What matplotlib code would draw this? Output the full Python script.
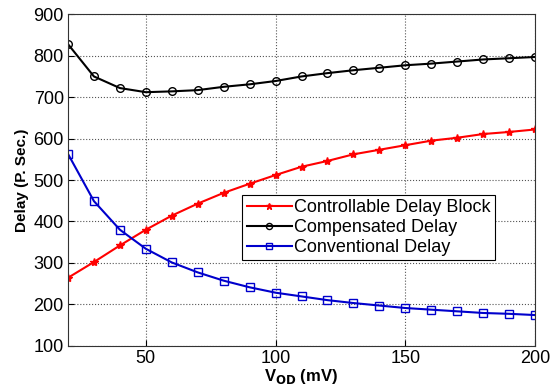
import matplotlib
matplotlib.use("Agg")
import matplotlib.pyplot as plt

# Daten
v_od = [20, 30, 40, 50, 60, 70, 80, 90, 100, 110, 120, 130, 140, 150, 160, 170, 180, 190, 200]
controllable = [264, 302, 342, 380, 414, 443, 469, 491, 512, 532, 546, 562, 573, 584, 595, 602, 611, 616, 622]
compensated = [828, 750, 722, 712, 714, 717, 725, 731, 739, 750, 758, 765, 771, 777, 781, 786, 791, 794, 797]
conventional = [563, 449, 380, 334, 301, 277, 257, 241, 228, 219, 210, 203, 197, 191, 187, 183, 179, 177, 174]

x_ticks = [50, 100, 150, 200]
y_ticks = [100, 200, 300, 400, 500, 600, 700, 800, 900]

plt.rcParams['font.family'] = ['Liberation Sans', 'DejaVu Sans']

fig = plt.figure(figsize=(5.51, 3.87), dpi=100)
ax = fig.add_axes([0.1234, 0.1067, 0.8476, 0.8563])

ax.plot(v_od, controllable, color='red', marker='*', markersize=6, lw=1.5,
        label='Controllable Delay Block')
ax.plot(v_od, compensated, color='black', marker='o', markersize=5.5, mfc='none', lw=1.5,
        label='Compensated Delay')
ax.plot(v_od, conventional, color='#0000cc', marker='s', markersize=5.5, mfc='none', lw=1.5,
        label='Conventional Delay')

ax.set_xlim(20, 200)
ax.set_ylim(100, 900)
ax.set_xticks(x_ticks)
ax.set_yticks(y_ticks)
ax.tick_params(direction='in', labelsize=13, length=4, pad=3)
ax.grid(True, linestyle=':', color='#555555', lw=0.8)
for s in ax.spines.values():
    s.set_color('#333333')

ax.set_xlabel(r'V$_{\mathbf{OD}}$ (mV)', fontsize=12, fontweight='bold', labelpad=0)
ax.set_ylabel('Delay (P. Sec.)', fontsize=11, fontweight='bold', labelpad=3)

leg = ax.legend(loc='upper left', bbox_to_anchor=(0.373, 0.455), fontsize=13,
                fancybox=False, edgecolor='black', framealpha=1,
                borderpad=0.25, labelspacing=0.15, handlelength=2.5, handletextpad=0.1,
                borderaxespad=0, markerscale=0.8)
leg.get_frame().set_linewidth(0.8)

fig.savefig('out.png', dpi=100)
